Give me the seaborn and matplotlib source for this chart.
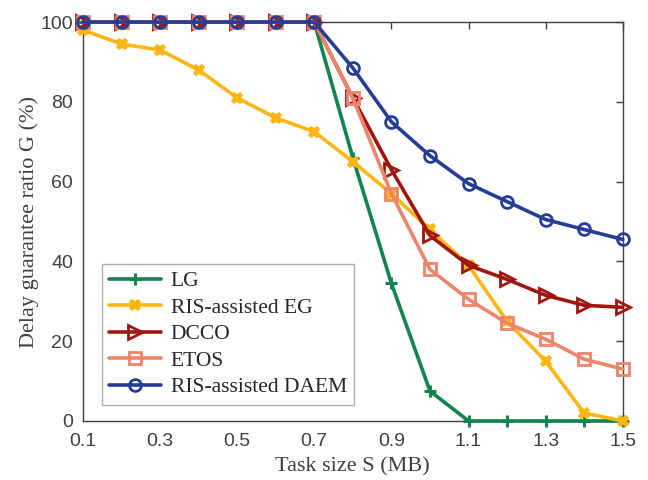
import seaborn as sns
import pandas as pd
import numpy as np
import matplotlib.pyplot as plt

task_size = [0.1, 0.2, 0.3, 0.4, 0.5, 0.6, 0.7, 0.8, 0.9, 1.0, 1.1, 1.2, 1.3, 1.4, 1.5]

lg = [100, 100, 100, 100, 100, 100, 100, 66, 34.5, 7.5, 0, 0, 0, 0, 0]
ris_eg = [98, 94.5, 93, 88, 81, 76, 72.5, 65, 57, 48, 39, 25, 15, 2, 0]
dcco = [100, 100, 100, 100, 100, 100, 100, 81, 63, 46.5, 39, 35.5, 31.5, 29, 28.5]
etos = [100, 100, 100, 100, 100, 100, 100, 81, 57, 38, 30.5, 24.5, 20.5, 15.5, 13]
ris_daem = [100, 100, 100, 100, 100, 100, 100, 88.5, 75, 66.5, 59.5, 55, 50.5, 48, 45.5]

series_names = ["LG", "RIS-assisted EG", "DCCO", "ETOS", "RIS-assisted DAEM"]
colors = ["#12844f", "#fcb614", "#a01510", "#ee8469", "#253d94"]
markers = ["+", "X", ">", "s", "o"]

sns.set_style("white")
plt.rcParams['font.family'] = ['Liberation Sans', 'DejaVu Sans']

fig = plt.figure(figsize=(6.48, 4.8), dpi=100)
ax = fig.add_axes([0.128, 0.123, 0.833, 0.831])

values = [lg, ris_eg, dcco, etos, ris_daem]
for name, vals, c, m in zip(series_names, values, colors, markers):
    df = pd.DataFrame({"S": task_size, "G": vals})
    if m == "+":
        kw = dict(markersize=8, markeredgewidth=2.2, markerfacecolor=c, markeredgecolor=c)
    elif m == "X":
        kw = dict(markersize=7.5, markeredgewidth=1.2, markerfacecolor=c, markeredgecolor=c)
    elif m == ">":
        kw = dict(markersize=10, markeredgewidth=2.0, markerfacecolor="none", markeredgecolor=c)
    else:
        kw = dict(markersize=8.5, markeredgewidth=2.0, markerfacecolor="none", markeredgecolor=c)
    sns.lineplot(data=df, x="S", y="G", ax=ax, color=c, linewidth=2.6,
                 marker=m, label=name, clip_on=False, zorder=3, **kw)

ax.set_xlim(0.1, 1.5)
ax.set_ylim(0, 100)
ax.set_xticks(np.arange(0.1, 1.51, 0.2))
ax.set_xticklabels(["0.1", "0.3", "0.5", "0.7", "0.9", "1.1", "1.3", "1.5"])
ax.set_yticks(range(0, 101, 20))
ax.tick_params(direction="in", length=5, width=1, colors="#404040", labelsize=14,
               top=True, right=True, pad=7)
ax.tick_params(axis="x", pad=9)
for sp in ax.spines.values():
    sp.set_color("#404040")
    sp.set_linewidth(1)

ax.set_xlabel("Task size S (MB)", fontfamily="Liberation Serif", fontsize=16, color="#404040", labelpad=5)
ax.set_ylabel("Delay guarantee ratio G (%)", fontfamily="Liberation Serif", fontsize=16, color="#404040", labelpad=1)

leg = ax.legend(loc="lower left", bbox_to_anchor=(0.035, 0.04), prop={"family": "Liberation Serif", "size": 15.5},
                frameon=True, fancybox=False, edgecolor="#999999", handlelength=2.4,
                borderpad=0.35, labelspacing=0.3, handletextpad=0.45, borderaxespad=0)
leg.get_frame().set_linewidth(1)

plt.savefig("out.png", dpi=100)
